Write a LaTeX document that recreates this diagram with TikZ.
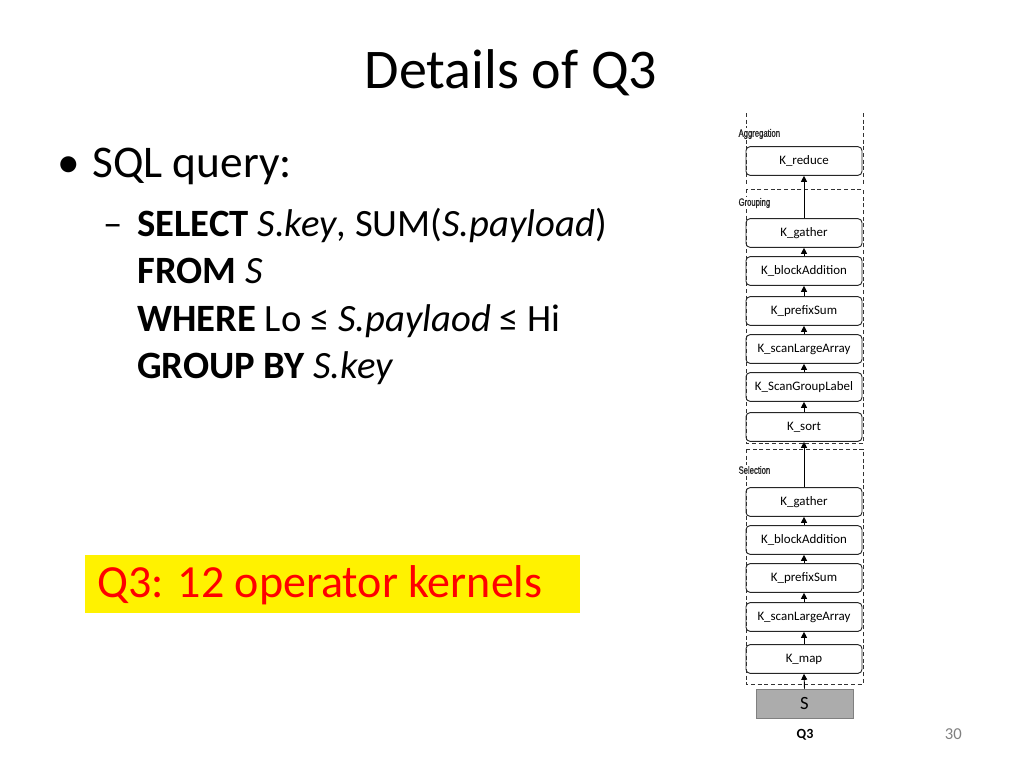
\documentclass[tikz,border=0pt]{standalone}
\usepackage{fontspec}
\setmainfont{Carlito}
\newfontfamily\stagefont[FakeStretch=0.72,FakeBold=1.2]{Liberation Sans}
\usetikzlibrary{arrows.meta,positioning}

\tikzset{
  kernel/.style={draw=black!85, line width=0.7pt, rounded corners=3pt, minimum width=87pt,
    minimum height=21.5pt, inner sep=0pt, font=\fontsize{9.7}{11}\selectfont},
  stagebox/.style={draw=black!80, line width=0.6pt, dash pattern=on 3pt off 2pt},
  stagelabel/.style={anchor=west, inner sep=1pt, fill=white, text=black!85, font=\stagefont\fontsize{8}{9}\selectfont},
  flow/.style={line width=0.7pt, -{Triangle[length=4.5pt,width=4.5pt]}},
  sqlline/.style={anchor=base west, inner sep=0pt, font=\fontsize{29}{34}\selectfont},
}

\begin{document}
\begin{tikzpicture}[x=0.75pt,y=-0.75pt]
        \useasboundingbox (0,0) rectangle (1024,768);
        % Title
        \node (title) [anchor=base, inner sep=0pt, font=\fontsize{42}{50}\selectfont] at (511,88) {Details of Q3};
        % Query text
        \node (bullet) [anchor=base west, inner sep=0pt, font=\fontsize{34}{40}\selectfont] at (57,177) {•};
        \node (sqlhead) [anchor=base west, inner sep=0pt, font=\fontsize{34}{40}\selectfont] at (92,177) {SQL query:};
        \node (dash) [sqlline] at (103,236) {–};
        \node (selline) [sqlline] at (137,236) {\textbf{SELECT} \textit{S.key}, SUM(\textit{S.payload})};
        \node (fromline) [sqlline] at (137,283) {\textbf{FROM} \textit{S}};
        \node (whereline) [sqlline] at (137,331) {\textbf{WHERE} Lo ≤ \textit{S.paylaod} ≤ Hi};
        \node (groupline) [sqlline] at (137,378) {\textbf{GROUP BY} \textit{S.key}};
        % Highlighted note
        \fill[yellow] (85,555) rectangle (580,613);
        \node (note) [anchor=base west, inner sep=0pt, text=red, font=\fontsize{34.5}{40}\selectfont] at (97,597) {Q3: 12 operator kernels};
        % Stage boxes
        \draw[stagebox] (746,113) -- (746,184);
        \draw[stagebox] (863,113) -- (863,184);
        \draw[stagebox] (746,189) rectangle (863,443);
        \draw[stagebox] (746,449) rectangle (863,684);
        \node (aggr) [stagelabel] at (737,134) {Aggregation};
        \node (grp) [stagelabel] at (737,203) {Grouping};
        \node (sel) [stagelabel] at (737,470) {Selection};
        % Kernels
        \node (kreduce) [kernel] at (804,161) {K\_reduce};
        \node (kgatherG) [kernel] at (804,233) {K\_gather};
        \node (kblockG) [kernel] at (804,271) {K\_blockAddition};
        \node (kprefixG) [kernel] at (804,311) {K\_prefixSum};
        \node (kscanG) [kernel] at (804,349) {K\_scanLargeArray};
        \node (klabel) [kernel] at (804,387) {K\_ScanGroupLabel};
        \node (ksort) [kernel] at (804,427) {K\_sort};
        \node (kgatherS) [kernel] at (804,502) {K\_gather};
        \node (kblockS) [kernel] at (804,540) {K\_blockAddition};
        \node (kprefixS) [kernel] at (804,578) {K\_prefixSum};
        \node (kscanS) [kernel] at (804,617) {K\_scanLargeArray};
        \node (kmap) [kernel] at (804,659) {K\_map};
        % Input table
        \node (src) [fill=gray!65, draw=gray, minimum width=72.75pt, minimum height=21.75pt,
          inner sep=0pt, font=\fontsize{14}{16}\selectfont] at (804.5,703.5) {S};
        \node (qname) [inner sep=0pt, font=\bfseries\fontsize{10.5}{12}\selectfont] at (805,735) {Q3};
        % Data flow
        \draw[flow] (src.north) -- (kmap.south);
        \draw[flow] (kmap.north) -- (kscanS.south);
        \draw[flow] (kscanS.north) -- (kprefixS.south);
        \draw[flow] (kprefixS.north) -- (kblockS.south);
        \draw[flow] (kblockS.north) -- (kgatherS.south);
        \draw[flow] (kgatherS.north) -- (ksort.south);
        \draw[flow] (ksort.north) -- (klabel.south);
        \draw[flow] (klabel.north) -- (kscanG.south);
        \draw[flow] (kscanG.north) -- (kprefixG.south);
        \draw[flow] (kprefixG.north) -- (kblockG.south);
        \draw[flow] (kblockG.north) -- (kgatherG.south);
        \draw[flow] (kgatherG.north) -- (kreduce.south);
        % Page number
        \node (pgnum) [anchor=base east, inner sep=0pt, text=gray, font=\fontsize{12.5}{14}\selectfont] at (962,739) {30};
\end{tikzpicture}
\end{document}
